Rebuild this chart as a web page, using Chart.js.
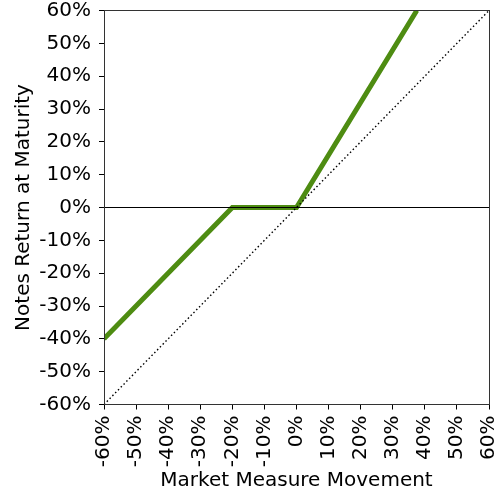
<!DOCTYPE html>
<html>
<head>
<meta charset="utf-8">
<script src="https://cdn.jsdelivr.net/npm/chart.js@4/dist/chart.umd.min.js"></script>
<style>
  html, body { margin: 0; padding: 0; background: #fff; }
  #wrap { width: 500px; height: 500px; position: relative; }
</style>
</head>
<body>
<div id="wrap"><canvas id="c"></canvas></div>
<script>
'use strict';

// ── Data ────────────────────────────────────────────────────────────────────
const payoffX = [-60, -20, 0, 37.5];
const payoffY = [-40, 0, 0, 60];

const diagX = [-60, 60];
const diagY = [-60, 60];

const zeroX = [-60, 60];
const zeroY = [0, 0];

const AXIS_MIN = -60;
const AXIS_MAX = 60;
const AXIS_STEP = 10;

const X_TITLE = 'Market Measure Movement';
const Y_TITLE = 'Notes Return at Maturity';

const pts = (xs, ys) => xs.map((x, i) => ({ x, y: ys[i] }));
const pct = v => v + '%';

const TICK_FONT = { family: 'DejaVu Sans', size: 20 };
const TITLE_FONT = { family: 'DejaVu Sans', size: 20 };

// frame round the plot area
const framePlugin = {
  id: 'frame',
  afterDatasetsDraw(chart) {
    const a = chart.chartArea;
    const ctx = chart.ctx;
    ctx.save();
    ctx.strokeStyle = '#333';
    ctx.lineWidth = 1;
    ctx.strokeRect(Math.floor(a.left) + 0.5, Math.floor(a.top) + 0.5,
      Math.round(a.right - a.left), Math.round(a.bottom - a.top));
    ctx.restore();
  }
};

new Chart(document.getElementById('c'), {
  type: 'scatter',
  data: {
    datasets: [
      {
        data: pts(zeroX, zeroY),
        showLine: true,
        borderColor: '#000',
        borderWidth: 1,
        pointRadius: 0,
      },
      {
        data: pts(diagX, diagY),
        showLine: true,
        borderColor: '#000',
        borderWidth: 1.4,
        borderDash: [1.5, 2.5],
        pointRadius: 0,
      },
      {
        data: pts(payoffX, payoffY),
        showLine: true,
        borderColor: '#4e8c12',
        borderWidth: 5,
        borderCapStyle: 'butt',
        borderJoinStyle: 'miter',
        pointRadius: 0,
      },
    ],
  },
  options: {
    responsive: true,
    maintainAspectRatio: false,
    animation: false,
    layout: { padding: { left: 0, right: 11, top: 10.5, bottom: 0 } },
    plugins: {
      legend: { display: false },
      tooltip: { enabled: false },
    },
    scales: {
      x: {
        type: 'linear',
        min: AXIS_MIN,
        max: AXIS_MAX,
        afterFit: s => { s.height = 95.5; s.paddingLeft = 0; s.paddingRight = 0; },
        ticks: {
          stepSize: AXIS_STEP,
          minRotation: 90,
          maxRotation: 90,
          padding: 6,
          color: '#000',
          font: TICK_FONT,
          callback: pct,
        },
        grid: { display: true, drawOnChartArea: false, drawTicks: true, tickLength: 5, color: '#000' },
        border: { display: true, color: '#333' },
        title: { display: true, text: X_TITLE, color: '#000', font: TITLE_FONT, padding: { top: 0, bottom: 7 } },
      },
      y: {
        type: 'linear',
        min: AXIS_MIN,
        max: AXIS_MAX,
        afterFit: s => { s.width = 104; s.paddingTop = 0; s.paddingBottom = 0; },
        ticks: {
          stepSize: AXIS_STEP,
          padding: 8,
          color: '#000',
          font: TICK_FONT,
          callback: pct,
        },
        grid: { display: true, drawOnChartArea: false, drawTicks: true, tickLength: 5, color: '#000' },
        border: { display: true, color: '#333' },
        title: { display: true, text: Y_TITLE, color: '#000', font: TITLE_FONT, padding: { top: 12, bottom: 0 } },
      },
    },
  },
  plugins: [framePlugin],
});
</script>
</body>
</html>
